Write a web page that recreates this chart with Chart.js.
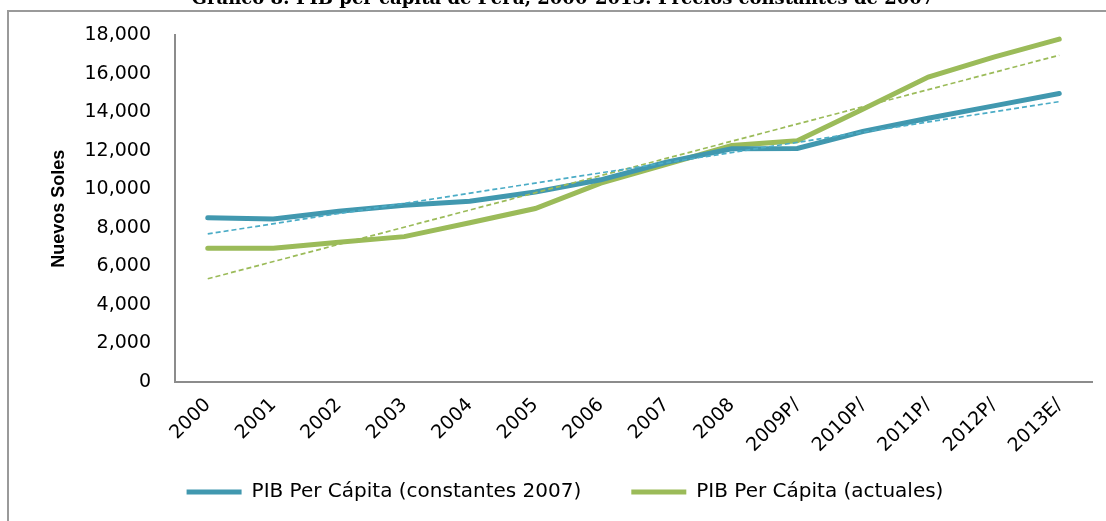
<!DOCTYPE html>
<html>
<head>
<meta charset="utf-8">
<script src="https://cdn.jsdelivr.net/npm/chart.js@4.4.0/dist/chart.umd.min.js"></script>
<style>
  html, body { margin: 0; padding: 0; background: #fff; }
  #wrap { position: relative; width: 1106px; height: 521px; }
</style>
</head>
<body>
<div id="wrap"><canvas id="myChart"></canvas></div>
<script>
// datos
const anios = ['2000', '2001', '2002', '2003', '2004', '2005', '2006', '2007', '2008', '2009P/', '2010P/', '2011P/', '2012P/', '2013E/'];
const pibConstantes = [8530, 8460, 8870, 9180, 9390, 9870, 10500, 11410, 12110, 12130, 13010, 13700, 14340, 14980];
const pibActuales = [6950, 6950, 7260, 7550, 8270, 9010, 10330, 11300, 12280, 12530, 14170, 15840, 16870, 17810];
// lineas de tendencia (solo extremos)
const tendConstantes = [7690, null, null, null, null, null, null, null, null, null, null, null, null, 14560];
const tendActuales = [5360, null, null, null, null, null, null, null, null, null, null, null, null, 16970];
const ticksY = [0, 2000, 4000, 6000, 8000, 10000, 12000, 14000, 16000, 18000];

const tituloGrafico = 'Gráfico 8: PIB per cápita de Perú, 2000-2013: Precios constantes de 2007';

const marcoPlugin = {
    id: 'marco',
    afterLayout(chart) {
        // mover la leyenda (arriba y un poco a la derecha)
        chart.legend.top -= 40;
        chart.legend.bottom -= 40;
        chart.legend.left += 19;
        chart.legend.right += 19;
    },
    beforeDraw(chart) {
        const ctx = chart.ctx;
        ctx.save();
        ctx.strokeStyle = '#9a9a9a';
        ctx.lineWidth = 2;
        ctx.beginPath();
        ctx.moveTo(8, 521);
        ctx.lineTo(8, 11);
        ctx.lineTo(1106, 11);
        ctx.stroke();
        ctx.fillStyle = '#000';
        ctx.font = 'bold 18px "DejaVu Serif"';
        ctx.textAlign = 'center';
        ctx.textBaseline = 'alphabetic';
        ctx.fillText(tituloGrafico, 563, 4);
        ctx.restore();
    }
};

const ctx = document.getElementById('myChart').getContext('2d');
new Chart(ctx, {
    type: 'line',
    data: {
        labels: anios,
        datasets: [{
            label: 'tendencia constantes',
            data: tendConstantes,
            borderColor: '#4bacc6',
            borderWidth: 1.7,
            borderDash: [5, 3],
            pointRadius: 0,
            spanGaps: true
        }, {
            label: 'tendencia actuales',
            data: tendActuales,
            borderColor: '#9bbb59',
            borderWidth: 1.7,
            borderDash: [5, 3],
            pointRadius: 0,
            spanGaps: true
        }, {
            label: 'PIB Per Cápita (constantes 2007)',
            data: pibConstantes,
            borderColor: '#4198af',
            backgroundColor: '#4198af',
            borderWidth: 5,
            borderCapStyle: 'round',
            pointRadius: 0
        }, {
            label: 'PIB Per Cápita (actuales)',
            data: pibActuales,
            borderColor: '#9bbb59',
            backgroundColor: '#9bbb59',
            borderWidth: 5,
            borderCapStyle: 'round',
            pointRadius: 0
        }]
    },
    options: {
        responsive: true,
        maintainAspectRatio: false,
        animation: false,
        layout: { padding: { left: 0, right: 14, top: 34, bottom: -31 } },
        plugins: {
            tooltip: { enabled: false },
            legend: {
                position: 'bottom',
                labels: {
                    generateLabels: chart => Chart.defaults.plugins.legend.labels.generateLabels(chart)
                        .filter(item => !item.text.startsWith('tendencia'))
                        .map(item => Object.assign(item, { lineWidth: 0 })),
                    boxWidth: 55,
                    boxHeight: 5,
                    padding: 50,
                    color: '#000',
                    font: { family: 'DejaVu Sans', size: 20 }
                }
            }
        },
        scales: {
            x: {
                offset: true,
                afterFit: scale => { scale.height = 90; },
                grid: { display: false, drawTicks: false },
                border: { display: true, color: '#8c8c8c', width: 2 },
                ticks: {
                    autoSkip: false,
                    minRotation: 45,
                    maxRotation: 45,
                    padding: 12,
                    color: '#000',
                    font: { family: 'DejaVu Sans', size: 19 }
                }
            },
            y: {
                min: 0,
                max: 18000,
                afterFit: scale => { scale.width = 175; },
                afterBuildTicks: scale => { scale.ticks = ticksY.map(v => ({ value: v })); },
                grid: { display: false, drawTicks: false },
                border: { display: true, color: '#8c8c8c', width: 2 },
                title: {
                    display: true,
                    text: 'Nuevos Soles',
                    color: '#000',
                    padding: { top: 48, bottom: 0 },
                    font: { family: '"Liberation Sans Narrow", "Liberation Sans"', size: 18, weight: 'bold' }
                },
                ticks: {
                    padding: 24,
                    color: '#000',
                    font: { family: 'DejaVu Sans', size: 19 },
                    callback: v => v.toLocaleString('en-US')
                }
            }
        }
    },
    plugins: [marcoPlugin]
});
</script>
</body>
</html>
